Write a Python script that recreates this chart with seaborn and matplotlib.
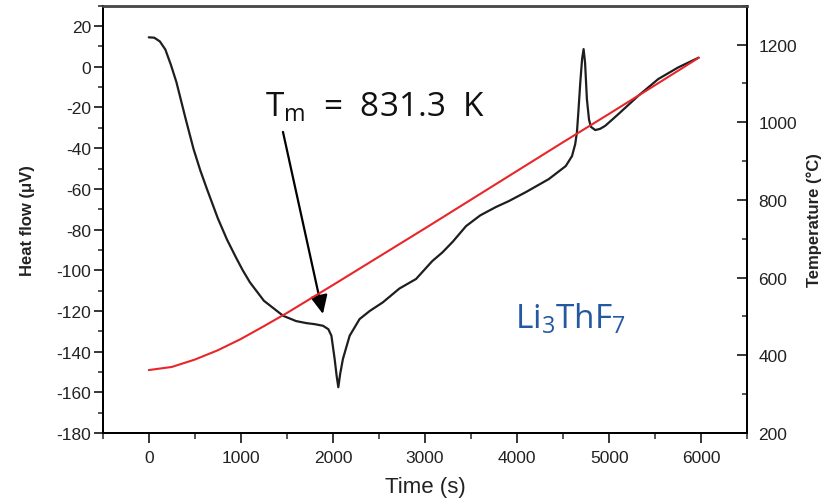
import matplotlib
matplotlib.use("Agg")
import matplotlib.pyplot as plt
from matplotlib.ticker import MultipleLocator
import seaborn as sns
import pandas as pd

# DSC heat-flow trace (time in s, heat flow in µV)
time_hf = [0, 60, 120, 180, 240, 300, 350, 400, 486, 560, 631, 750, 850, 950,
           1020, 1099, 1250, 1459, 1600, 1712, 1800, 1892, 1950, 1983, 2018,
           2040, 2058, 2078, 2108, 2181, 2289, 2400, 2541, 2721, 2902, 3078,
           3189, 3300, 3445, 3600, 3770, 3910, 4094, 4343, 4527, 4595, 4630,
           4649, 4666, 4685, 4705, 4721, 4737, 4757, 4780, 4800, 4848, 4900,
           4956, 5100, 5316, 5532, 5748, 5970]
heat_flow = [14.5, 14.3, 12.5, 8.5, 1.0, -7.5, -16.5, -25.5, -40.4, -51, -60,
             -74.5, -85, -94, -100, -106, -115, -122.4, -125, -126, -126.5,
             -127.3, -129, -132.2, -143.6, -152, -157.5, -151, -143.6, -132.2,
             -124, -120, -115.8, -109, -104.3, -95.5, -91.2, -86, -78.3, -73,
             -68.9, -66, -61.6, -55.2, -48.8, -43.9, -38, -32, -21, -7.7, 4,
             8.7, 2, -16, -26, -29.5, -31.1, -30.5, -29, -23.2, -14.2, -6,
             -0.3, 4.5]

# Furnace temperature programme (time in s, temperature in °C)
time_t = [0, 250, 500, 750, 1000, 1250, 1500, 1750, 2000, 2500, 3000, 3500,
          4000, 4500, 5000, 5500, 5970]
temperature = [362, 370, 389, 413, 442, 475, 509, 545, 581, 654, 727, 801,
               875, 949, 1022, 1096, 1166]

x_ticks = [0, 1000, 2000, 3000, 4000, 5000, 6000]
hf_ticks = list(range(-180, 21, 20))
temp_ticks = [200, 400, 600, 800, 1000, 1200]

sns.set_theme(style="ticks")
plt.rcParams["font.family"] = ["Liberation Sans", "DejaVu Sans"]
plt.rcParams["axes.unicode_minus"] = False
plt.rcParams["mathtext.fontset"] = "custom"
plt.rcParams["mathtext.rm"] = "Open Sans"
plt.rcParams["mathtext.it"] = "Open Sans:italic"
plt.rcParams["mathtext.bf"] = "Open Sans:bold"

fig = plt.figure(figsize=(8.25, 5.02), dpi=100)
ax = fig.add_axes([0.1245, 0.1355, 0.7815, 0.851])
ax2 = ax.twinx()

df_hf = pd.DataFrame({"time": time_hf, "hf": heat_flow})
df_t = pd.DataFrame({"time": time_t, "temp": temperature})

sns.lineplot(data=df_hf, x="time", y="hf", ax=ax, color="#1e1e1e",
             linewidth=1.6, sort=False)
sns.lineplot(data=df_t, x="time", y="temp", ax=ax2, color="#e8262a",
             linewidth=1.5, sort=False)

ax.set_xlim(-500, 6500)
ax.set_ylim(-180, 30)
ax2.set_ylim(200, 1300)

ax.set_xticks(x_ticks)
ax.set_yticks(hf_ticks)
ax2.set_yticks(temp_ticks)
ax.xaxis.set_minor_locator(MultipleLocator(500))
ax.yaxis.set_minor_locator(MultipleLocator(10))
ax2.yaxis.set_minor_locator(MultipleLocator(100))

tick_font = dict(labelsize=12.5, labelcolor="#222222", color="black")
ax.tick_params(axis="x", which="major", direction="out", length=7, width=1.1,
               pad=5, **tick_font)
ax.tick_params(axis="x", which="minor", direction="out", length=4, width=1.1)
ax.tick_params(axis="y", which="major", direction="out", length=6.5, width=1.1,
               pad=2, **tick_font)
ax.tick_params(axis="y", which="minor", direction="out", length=3.5, width=1.1)
ax.tick_params(top=False, which="both")
ax2.tick_params(axis="y", which="major", direction="in", length=7, width=1.1,
                pad=8, **tick_font)
ax2.tick_params(axis="y", which="minor", direction="in", length=3.5, width=1.1)

for a in (ax, ax2):
    for side in ("left", "bottom", "right"):
        a.spines[side].set_color("black")
        a.spines[side].set_linewidth(1.4)
    a.spines["top"].set_color("#4a4a4a")
    a.spines["top"].set_linewidth(1.8)
    a.grid(False)

ax.set_xlabel("Time (s)", fontsize=16, color="#222222", labelpad=8)
ax.set_ylabel("Heat flow (\u03bcV)", fontsize=12, fontweight="bold",
              color="#222222", labelpad=15)
ax2.set_ylabel("Temperature (\u00b0C)", fontsize=12, fontweight="bold",
               color="#222222", labelpad=7)

ax.annotate("", xy=(1891, -121.5), xytext=(1457, -32),
            arrowprops=dict(arrowstyle="-|>,head_length=0.75,head_width=0.35",
                            color="black", lw=1.6, mutation_scale=15,
                            shrinkA=0, shrinkB=0))
ax.text(1262, -24.1, r"T$_{\mathrm{m}}$  =  831.3  K", fontsize=24,
        family="Open Sans", color="#111111", ha="left", va="baseline")
ax.text(3976, -128, r"Li$_{3}$ThF$_{7}$", fontsize=24, family="Open Sans",
        color="#2458a0", ha="left", va="baseline")

fig.savefig("out.png", dpi=100)
